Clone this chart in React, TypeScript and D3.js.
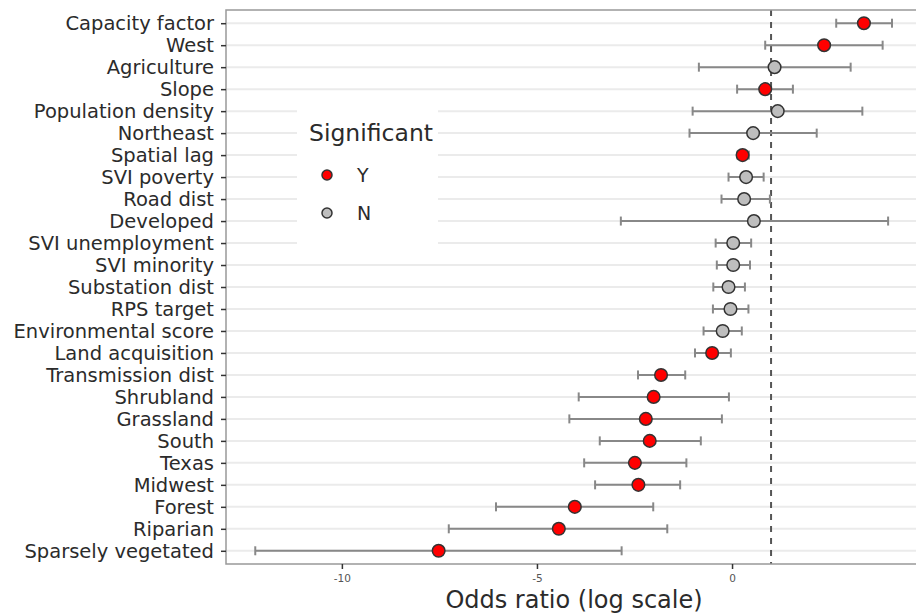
import React, { useEffect, useRef } from "react";
import * as d3 from "d3";

// predictors, top to bottom
const variables = [
  "Capacity factor", "West", "Agriculture", "Slope", "Population density",
  "Northeast", "Spatial lag", "SVI poverty", "Road dist", "Developed",
  "SVI unemployment", "SVI minority", "Substation dist", "RPS target",
  "Environmental score", "Land acquisition", "Transmission dist", "Shrubland",
  "Grassland", "South", "Texas", "Midwest", "Forest", "Riparian",
  "Sparsely vegetated",
];
const estimates = [
  3.38, 2.36, 1.09, 0.85, 1.17, 0.54, 0.27, 0.36, 0.31, 0.56,
  0.03, 0.03, -0.09, -0.04, -0.24, -0.51, -1.82, -2.01, -2.21, -2.11,
  -2.49, -2.4, -4.03, -4.44, -7.52,
];
const lower = [
  2.67, 0.85, -0.85, 0.13, -1.01, -1.09, 0.14, -0.09, -0.27, -2.85,
  -0.42, -0.39, -0.48, -0.49, -0.73, -0.95, -2.41, -3.93, -4.17, -3.39,
  -3.79, -3.51, -6.05, -7.26, -12.22,
];
const upper = [
  4.1, 3.86, 3.04, 1.56, 3.34, 2.17, 0.43, 0.81, 0.97, 4.0,
  0.49, 0.46, 0.33, 0.42, 0.25, -0.03, -1.2, -0.08, -0.26, -0.8,
  -1.17, -1.33, -2.02, -1.66, -2.83,
];
const significant = [
  "Y", "Y", "N", "Y", "N", "N", "Y", "N", "N", "N",
  "N", "N", "N", "N", "N", "Y", "Y", "Y", "Y", "Y",
  "Y", "Y", "Y", "Y", "Y",
];
const legendLevels = ["Y", "N"];
const xTicks = [-10, -5, 0];
const refLine = 1;

const fillFor = (s: string) => (s === "Y" ? "#ff0000" : "#bebebe");

const App = () => {
  const svgRef = useRef<SVGSVGElement | null>(null);

  useEffect(() => {
    const width = 916;
    const height = 613;
    const panel = { left: 226, top: 10, right: 924, bottom: 564 };
    const font = "'DejaVu Sans', sans-serif";

    const rows = variables.map((v, i) => ({
      name: v,
      est: estimates[i],
      lo: lower[i],
      hi: upper[i],
      sig: significant[i],
    }));

    const svg = d3.select(svgRef.current);
    svg.selectAll("*").remove();
    svg.attr("width", width).attr("height", height);

    const x = d3.scaleLinear().domain([-12.97, 4.92]).range([panel.left, panel.right]);
    const y = d3.scalePoint<string>()
      .domain(variables)
      .range([panel.top + 13.2, panel.bottom - 13.2]);

    svg.append("rect")
      .attr("width", width).attr("height", height).attr("fill", "#fff");

    // horizontal grid
    svg.append("g").selectAll("line")
      .data(variables)
      .join("line")
      .attr("x1", panel.left).attr("x2", panel.right)
      .attr("y1", d => y(d)!).attr("y2", d => y(d)!)
      .attr("stroke", "#ebebeb").attr("stroke-width", 2);

    // reference line
    svg.append("line")
      .attr("x1", x(refLine)).attr("x2", x(refLine))
      .attr("y1", panel.top).attr("y2", panel.bottom)
      .attr("stroke", "#555").attr("stroke-width", 2)
      .attr("stroke-dasharray", "6 6");

    // legend box (drawn over grid)
    const legend = svg.append("g");
    legend.append("rect")
      .attr("x", 297).attr("y", 100).attr("width", 141).attr("height", 150)
      .attr("fill", "#fff");
    legend.append("text")
      .attr("x", 309).attr("y", 141)
      .attr("font-family", font).attr("font-size", 23.5).attr("fill", "#2b2b2b")
      .text("Significant");
    legendLevels.forEach((lv, i) => {
      const cy = 175 + i * 38;
      legend.append("circle")
        .attr("cx", 327).attr("cy", cy).attr("r", 5)
        .attr("fill", fillFor(lv)).attr("stroke", "#333").attr("stroke-width", 1.5);
      legend.append("text")
        .attr("x", 357).attr("y", cy + 7)
        .attr("font-family", font).attr("font-size", 19).attr("fill", "#2b2b2b")
        .text(lv);
    });

    // error bars
    const bars = svg.append("g")
      .attr("stroke", "#888").attr("stroke-width", 2);
    rows.forEach(d => {
      const cy = y(d.name)!;
      bars.append("line")
        .attr("x1", x(d.lo)).attr("x2", x(d.hi))
        .attr("y1", cy).attr("y2", cy);
      [d.lo, d.hi].forEach(v => {
        bars.append("line")
          .attr("x1", x(v)).attr("x2", x(v))
          .attr("y1", cy - 4.5).attr("y2", cy + 4.5);
      });
    });

    // points
    svg.append("g").selectAll("circle")
      .data(rows)
      .join("circle")
      .attr("cx", d => x(d.est))
      .attr("cy", d => y(d.name)!)
      .attr("r", 6.3)
      .attr("fill", d => fillFor(d.sig))
      .attr("stroke", "#333")
      .attr("stroke-width", 1.5);

    // panel border
    svg.append("rect")
      .attr("x", panel.left).attr("y", panel.top)
      .attr("width", panel.right - panel.left).attr("height", panel.bottom - panel.top)
      .attr("fill", "none").attr("stroke", "#999").attr("stroke-width", 1.5);

    // y axis
    const yAxis = svg.append("g")
      .attr("transform", `translate(${panel.left},0)`)
      .call(d3.axisLeft(y).tickSize(5).tickPadding(7));
    yAxis.select(".domain").remove();
    yAxis.selectAll(".tick line").attr("stroke", "#333").attr("stroke-width", 1.5);
    yAxis.selectAll(".tick text")
      .attr("font-family", font).attr("font-size", 19.5).attr("fill", "#2b2b2b");

    // x axis
    const xAxis = svg.append("g")
      .attr("transform", `translate(0,${panel.bottom})`)
      .call(d3.axisBottom(x).tickValues(xTicks).tickSize(5).tickPadding(6)
        .tickFormat(d => String(d)));
    xAxis.select(".domain").remove();
    xAxis.selectAll(".tick line").attr("stroke", "#333").attr("stroke-width", 1.5);
    xAxis.selectAll(".tick text")
      .attr("font-family", font).attr("font-size", 10.5).attr("fill", "#555");

    svg.append("text")
      .attr("x", 574).attr("y", 608)
      .attr("text-anchor", "middle")
      .attr("font-family", font).attr("font-size", 24).attr("fill", "#2b2b2b")
      .text("Odds ratio (log scale)");
  }, []);

  return (
    <svg ref={svgRef} style={{ position: "absolute", left: 0, top: 0, display: "block" }} />
  );
};

export default App;
